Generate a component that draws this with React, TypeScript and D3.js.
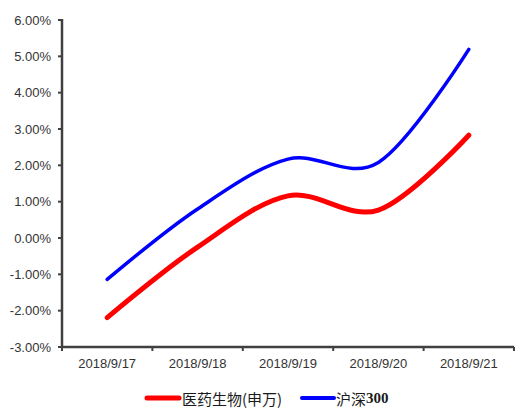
import React from "react";
import * as d3 from "d3";

const dates = ["2018/9/17", "2018/9/18", "2018/9/19", "2018/9/20", "2018/9/21"];
const pharma = [-2.19, -0.25, 1.16, 0.77, 2.83];
const csi300 = [-1.14, 0.8, 2.17, 2.08, 5.19];
const yTicks = [-3, -2, -1, 0, 1, 2, 3, 4, 5, 6];
const seriesNames = ["医药生物(申万)", "沪深300"];

const W = 515;
const H = 408;
const left = 62;
const right = 514;
const top = 20;
const bottom = 347;

export default function App() {
  const x = d3.scaleBand<string>().domain(dates).range([left, right]).padding(0);
  const y = d3.scaleLinear().domain([-3, 6]).range([bottom, top]);
  const cx = (d: string) => (x(d) as number) + x.bandwidth() / 2;

  const line = d3
    .line<number>()
    .x((_, i) => cx(dates[i]))
    .y((v) => y(v))
    .curve(d3.curveCardinal.tension(0));

  const axisColor = "#404040";
  const font = "'Liberation Sans', Arial, sans-serif";
  const boundaries = [...dates.map((d) => x(d) as number), right];

  return (
    <svg
      width={W}
      height={H}
      style={{ position: "absolute", left: 0, top: 0, background: "#fff" }}
    >
      {/* y axis */}
      <line x1={left} x2={left} y1={top - 1} y2={bottom} stroke={axisColor} strokeWidth={2.5} />
      {yTicks.map((t) => (
        <g key={t}>
          <line x1={left - 4} x2={left} y1={y(t)} y2={y(t)} stroke={axisColor} strokeWidth={2} />
          <text
            x={51}
            y={y(t)}
            textAnchor="end"
            dominantBaseline="central"
            fontFamily={font}
            fontSize={13}
            fill="#333"
          >
            {t.toFixed(2) + "%"}
          </text>
        </g>
      ))}

      {/* x axis */}
      <line x1={left - 1} x2={right} y1={bottom} y2={bottom} stroke={axisColor} strokeWidth={2.5} />
      {boundaries.map((b, i) => (
        <line key={i} x1={b} x2={b} y1={bottom} y2={bottom + 4} stroke={axisColor} strokeWidth={2} />
      ))}
      {dates.map((d) => (
        <text
          key={d}
          x={cx(d)}
          y={363}
          textAnchor="middle"
          dominantBaseline="central"
          fontFamily={font}
          fontSize={13}
          fill="#333"
        >
          {d}
        </text>
      ))}

      {/* series */}
      <path d={line(csi300) || ""} fill="none" stroke="#0000ff" strokeWidth={3.5} strokeLinecap="round" />
      <path d={line(pharma) || ""} fill="none" stroke="#ff0000" strokeWidth={5} strokeLinecap="round" />

      {/* legend */}
      <line x1={147} x2={179} y1={398} y2={398} stroke="#ff0000" strokeWidth={5} strokeLinecap="round" />
      <text
        x={182}
        y={398}
        dominantBaseline="central"
        fontFamily="'Noto Sans CJK SC', sans-serif"
        fontSize={15}
        fill="#1a1a1a"
      >
        {seriesNames[0]}
      </text>
      <line x1={302} x2={334} y1={398} y2={398} stroke="#0000ff" strokeWidth={4} strokeLinecap="round" />
      <text
        x={336}
        y={398}
        dominantBaseline="central"
        fontFamily="'Noto Sans CJK SC', sans-serif"
        fontSize={15}
        fill="#1a1a1a"
      >
        {seriesNames[1].slice(0, 2)}
        <tspan fontFamily="'Liberation Serif', 'DejaVu Serif', serif" fontWeight="bold">
          {seriesNames[1].slice(2)}
        </tspan>
      </text>
    </svg>
  );
}
